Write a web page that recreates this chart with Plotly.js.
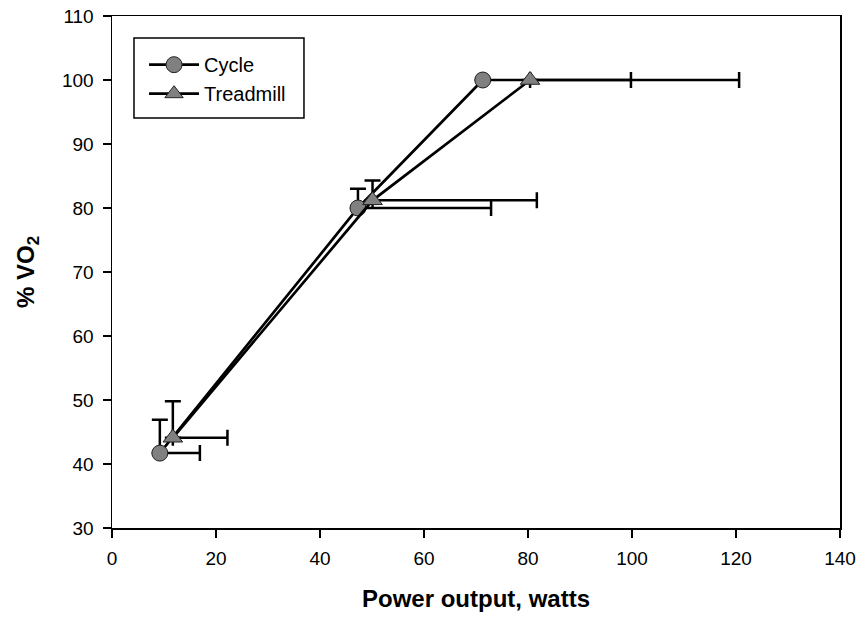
<!DOCTYPE html>
<html>
<head>
<meta charset="utf-8">
<script src="https://cdn.plot.ly/plotly-3.0.1.min.js"></script>
<style>html,body{margin:0;padding:0;background:#fff;}#chart{width:865px;height:619px;}</style>
</head>
<body>
<div id="chart"></div>
<script>
// Data
const cycleX = [9.2, 47.3, 71.3];
const cycleY = [41.7, 80.0, 100.0];
const cycleXErr = [7.7, 25.6, 28.5];
const cycleYErr = [5.2, 3.0, 0];

const treadX = [11.7, 50.1, 80.4];
const treadY = [44.1, 81.2, 100.0];
const treadXErr = [10.5, 31.6, 40.2];
const treadYErr = [5.7, 3.1, 0];

const xTicks = [0, 20, 40, 60, 80, 100, 120, 140];
const yTicks = [30, 40, 50, 60, 70, 80, 90, 100, 110];

const zeros = [0, 0, 0];
function errBar(arr){return {type:'data', symmetric:false, array:arr, arrayminus:zeros, color:'#000', thickness:2.5, width:8};}

const traces = [
  {x: cycleX, y: cycleY, name: 'Cycle', mode: 'lines+markers', type: 'scatter',
   line: {color: '#000', width: 2.7},
   marker: {symbol: 'circle', size: 16, color: '#808080', line: {color: '#222', width: 1}},
   error_x: errBar(cycleXErr), error_y: errBar(cycleYErr)},
  {x: treadX, y: treadY, name: 'Treadmill', mode: 'lines+markers', type: 'scatter',
   line: {color: '#000', width: 2.7},
   marker: {symbol: 'triangle-up', size: 17, color: '#808080', line: {color: '#222', width: 1}},
   error_x: errBar(treadXErr), error_y: errBar(treadYErr)}
];

const layout = {
  width: 865, height: 619,
  margin: {l: 112, r: 25, t: 16, b: 91},
  paper_bgcolor: '#fff', plot_bgcolor: '#fff',
  font: {family: 'Liberation Sans, Arial, sans-serif', size: 19, color: '#000'},
  showlegend: true,
  shapes: [{type: 'rect', xref: 'paper', yref: 'paper', x0: 0.0302, x1: 0.2637, y0: 0.8008, y1: 0.957,
    line: {color: '#000', width: 1.5}, fillcolor: '#fff', layer: 'above'}],
  legend: {x: 0.044, y: 0.943, xanchor: 'left', yanchor: 'top',
    borderwidth: 0, bgcolor: 'rgba(0,0,0,0)',
    font: {size: 20}, tracegroupgap: 0, itemwidth: 50},
  xaxis: {range: [0, 140], tickvals: xTicks, ticktext: xTicks.map(String),
    showgrid: false, zeroline: false, showline: true, linecolor: '#000', linewidth: 1.5,
    mirror: true, ticks: 'outside', ticklen: 8, tickwidth: 1.5, tickcolor: '#000',
    tickfont: {size: 19}, ticklabelstandoff: 5,
    title: {text: '<b>Power output, watts</b>', font: {size: 24}, standoff: 22}},
  yaxis: {range: [30, 110], tickvals: yTicks, ticktext: yTicks.map(String),
    showgrid: false, zeroline: false, showline: true, linecolor: '#000', linewidth: 1.5,
    mirror: true, ticks: 'outside', ticklen: 8, tickwidth: 1.5, tickcolor: '#000',
    tickfont: {size: 19}, ticklabelstandoff: 5,
    title: {text: '<b>% VO<sub>2</sub></b>', font: {size: 24}, standoff: 20}}
};

Plotly.newPlot('chart', traces, layout, {staticPlot: true, displayModeBar: false});
</script>
</body>
</html>
